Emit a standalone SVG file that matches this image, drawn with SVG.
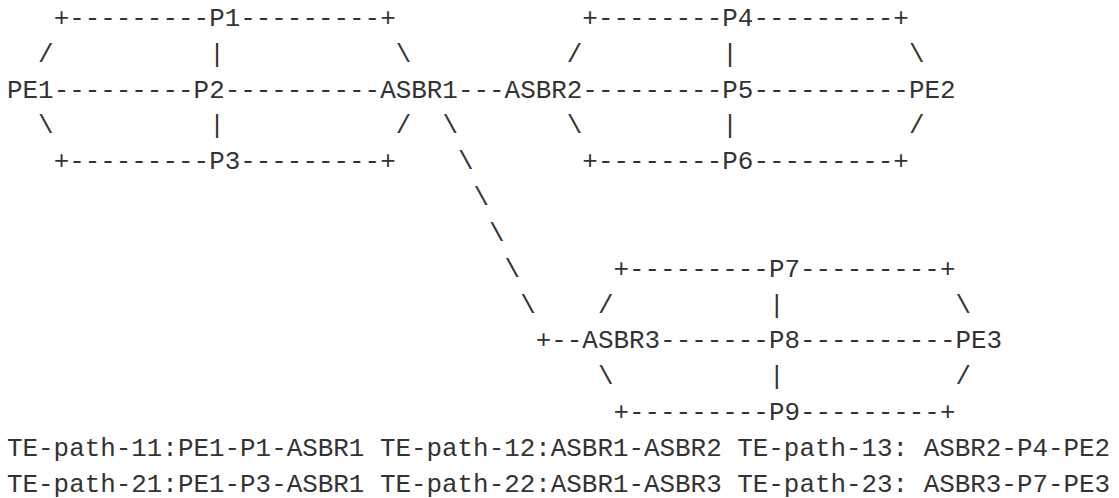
<svg xmlns="http://www.w3.org/2000/svg" width="1119" height="498" viewBox="0 0 1119 498">
<style>
text{font-family:"Liberation Mono","DejaVu Sans Mono",monospace;font-size:25.9px;fill:#333;white-space:pre}
</style>
<rect x="0" y="0" width="1119" height="498" fill="#fff"/>
<g id="connectors">
<text x="53.65" y="25.8">+</text><text x="69.2" y="25.8">---------</text><text x="240.25" y="25.8">---------</text><text x="380.2" y="25.8">+</text>
<text x="582.35" y="25.8">+</text><text x="597.9" y="25.8">--------</text><text x="753.4" y="25.8">---------</text><text x="893.35" y="25.8">+</text>
<text x="38.1" y="61.65">/</text><text x="209.15" y="61.65">|</text><text x="395.75" y="61.65">\</text><text x="566.8" y="61.65">/</text><text x="722.3" y="61.65">|</text><text x="908.9" y="61.65">\</text>
<text x="53.65" y="97.5">---------</text><text x="224.7" y="97.5">----------</text><text x="457.95" y="97.5">---</text><text x="582.35" y="97.5">---------</text><text x="753.4" y="97.5">----------</text>
<text x="38.1" y="133.35">\</text><text x="209.15" y="133.35">|</text><text x="395.75" y="133.35">/</text><text x="442.4" y="133.35">\</text><text x="566.8" y="133.35">\</text><text x="722.3" y="133.35">|</text><text x="908.9" y="133.35">/</text>
<text x="53.65" y="169.2">+</text><text x="69.2" y="169.2">---------</text><text x="240.25" y="169.2">---------</text><text x="380.2" y="169.2">+</text><text x="457.95" y="169.2">\</text>
<text x="582.35" y="169.2">+</text><text x="597.9" y="169.2">--------</text><text x="753.4" y="169.2">---------</text><text x="893.35" y="169.2">+</text>
<text x="473.5" y="205.05">\</text>
<text x="489.05" y="240.9">\</text>
<text x="504.6" y="276.75">\</text><text x="613.45" y="276.75">+</text><text x="629" y="276.75">---------</text><text x="800.05" y="276.75">---------</text><text x="940" y="276.75">+</text>
<text x="520.15" y="312.6">\</text><text x="597.9" y="312.6">/</text><text x="768.95" y="312.6">|</text><text x="955.55" y="312.6">\</text>
<text x="535.7" y="348.45">+</text><text x="551.25" y="348.45">--</text><text x="660.1" y="348.45">-------</text><text x="800.05" y="348.45">----------</text>
<text x="597.9" y="384.3">\</text><text x="768.95" y="384.3">|</text><text x="955.55" y="384.3">/</text>
<text x="613.45" y="420.15">+</text><text x="629" y="420.15">---------</text><text x="800.05" y="420.15">---------</text><text x="940" y="420.15">+</text>
</g>
<g id="PE1"><text x="7" y="97.5">PE1</text></g>
<g id="P1"><text x="209.15" y="25.8">P1</text></g>
<g id="P2"><text x="193.6" y="97.5">P2</text></g>
<g id="P3"><text x="209.15" y="169.2">P3</text></g>
<g id="ASBR1"><text x="380.2" y="97.5">ASBR1</text></g>
<g id="ASBR2"><text x="504.6" y="97.5">ASBR2</text></g>
<g id="P4"><text x="722.3" y="25.8">P4</text></g>
<g id="P5"><text x="722.3" y="97.5">P5</text></g>
<g id="P6"><text x="722.3" y="169.2">P6</text></g>
<g id="PE2"><text x="908.9" y="97.5">PE2</text></g>
<g id="P7"><text x="768.95" y="276.75">P7</text></g>
<g id="ASBR3"><text x="582.35" y="348.45">ASBR3</text></g>
<g id="P8"><text x="768.95" y="348.45">P8</text></g>
<g id="PE3"><text x="955.55" y="348.45">PE3</text></g>
<g id="P9"><text x="768.95" y="420.15">P9</text></g>
<g id="legend">
<text x="7" y="456">TE-path-11:PE1-P1-ASBR1 TE-path-12:ASBR1-ASBR2 TE-path-13: ASBR2-P4-PE2</text>
<text x="7" y="491.85">TE-path-21:PE1-P3-ASBR1 TE-path-22:ASBR1-ASBR3 TE-path-23: ASBR3-P7-PE3</text>
</g>
</svg>
